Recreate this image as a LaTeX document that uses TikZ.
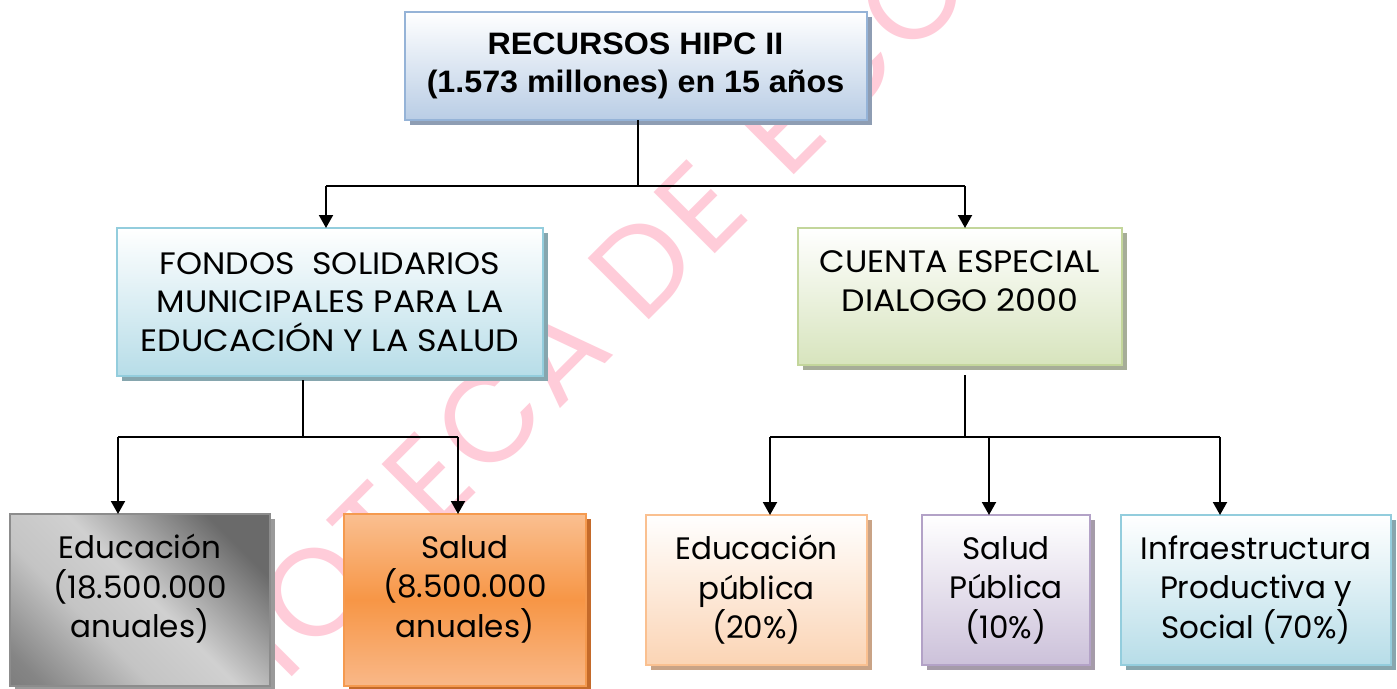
\documentclass[tikz,border=0pt]{standalone}
\usepackage{fontspec}
\setmainfont{Poppins}
\newfontfamily\capsfont[FakeStretch=1.07]{Poppins}
\newfontfamily\topfont[FakeStretch=1.04]{Liberation Sans}
\newfontfamily\wmfont[LetterSpace=5]{Poppins}
\usetikzlibrary{arrows.meta,shadows,calc}
\definecolor{topB}{HTML}{B9CDE5}
\definecolor{topD}{HTML}{95B3D7}
\definecolor{topS}{HTML}{8E9DB3}
\definecolor{cyB}{HTML}{B7DDE8}
\definecolor{cyD}{HTML}{93CDDD}
\definecolor{cyS}{HTML}{86A6AE}
\definecolor{grB}{HTML}{D7E4BD}
\definecolor{grD}{HTML}{C3D69B}
\definecolor{grS}{HTML}{A6AD98}
\definecolor{gyD}{HTML}{8C8C8C}
\definecolor{gyS}{HTML}{9A9A9A}
\definecolor{orD}{HTML}{F59A4F}
\definecolor{orS}{HTML}{C46A2A}
\definecolor{peB}{HTML}{FBD4B4}
\definecolor{peD}{HTML}{FAC090}
\definecolor{peS}{HTML}{C9A386}
\definecolor{puB}{HTML}{CCC1DA}
\definecolor{puD}{HTML}{B3A2C7}
\definecolor{puS}{HTML}{A59BA9}
\definecolor{wmpink}{RGB}{255,204,217}
\definecolor{gA}{HTML}{6A6A6A}
\definecolor{gB}{HTML}{D0D0D0}
\definecolor{gC}{HTML}{C4C4C4}
\definecolor{gE}{HTML}{858585}
\definecolor{oT}{HTML}{FABF90}
\definecolor{oM}{HTML}{F79646}
\definecolor{oB}{HTML}{F9B888}
\pgfdeclarehorizontalshading{greydiag}{100bp}{color(0bp)=(gA); color(25bp)=(gA); color(48bp)=(gB); color(62bp)=(gC); color(80bp)=(gE); color(100bp)=(gA)}
\pgfdeclareverticalshading{orangesh}{100bp}{color(0bp)=(oB); color(25bp)=(oB); color(50bp)=(oM); color(75bp)=(oT); color(100bp)=(oT)}
\tikzset{
  box/.style={rectangle, draw=#1, line width=2pt, inner sep=0pt, outer sep=0pt, align=center,
    font=\fontsize{31}{39.5}\selectfont},
  capsbox/.style={font=\capsfont\fontsize{31}{38.5}\selectfont},
  shad/.style={general shadow={shadow xshift=5pt, shadow yshift=-5pt, fill=#1}},
  txt/.style={align=center, inner sep=0pt, font=\fontsize{31}{39.5}\selectfont},
  conn/.style={line width=2pt, draw=black},
  arr/.style={conn, -{Triangle[width=14pt,length=13pt]}},
  wm/.style={rotate=45, inner sep=0pt, text=wmpink,
    font=\wmfont\fontsize{124}{124}\selectfont}
}
\begin{document}
\begin{tikzpicture}[x=1pt,y=-1pt]
\clip (0,0) rectangle (1397,688);
\fill[white] (0,0) rectangle (1397,688);

% watermark (behind the boxes)
\node[wm, anchor=base east] (wm1) at (617,352) {IOTECA};
\node[wm, anchor=base west] (wm2) at (642,327) {DE};
\node[wm, anchor=base west] (wm3) at (787,182) {ECO};

% level 0
\node[box=topD, top color=white, bottom color=topB, shad=topS,
      minimum width=462pt, minimum height=108pt,
      font=\topfont\bfseries\fontsize{31}{38}\selectfont] (top) at (635.5,66)
      {RECURSOS HIPC II\\(1.573 millones) en 15 años};

% level 1
\node[box=cyD, capsbox, top color=white, bottom color=cyB, shad=cyS,
      minimum width=426pt, minimum height=148pt] (fondos) at (330,302)
      {FONDOS\ \ SOLIDARIOS\\MUNICIPALES PARA LA\\EDUCACIÓN Y LA SALUD};
\node[box=grD, top color=white, bottom color=grB, shad=grS,
      minimum width=324pt, minimum height=137pt] (cuenta) at (960,296.5) {};
\node[txt, capsbox] (cuentat) at (960,281) {CUENTA ESPECIAL\\DIALOGO 2000};

% level 2
\node[box=gyD, shading=greydiag, shading angle=225, shad=gyS,
      minimum width=260pt, minimum height=172pt] (edu) at (140,600) {};
\node[txt] (edut) at (140,589) {Educación\\(18.500.000\\anuales)};
\node[box=orD, shading=orangesh, shad=orS,
      minimum width=242pt, minimum height=172pt] (salud) at (465,600) {};
\node[txt] (saludt) at (465,589) {Salud\\(8.500.000\\anuales)};
\node[box=peD, top color=white, bottom color=peB, shad=peS,
      minimum width=221pt, minimum height=150pt] (edup) at (756.5,590)
      {Educación\\pública\\(20\%)};
\node[box=puD, top color=white, bottom color=puB, shad=puS,
      minimum width=168pt, minimum height=150pt] (saludp) at (1006,590)
      {Salud\\Pública\\(10\%)};
\node[box=cyD, top color=white, bottom color=cyB, shad=cyS,
      minimum width=270pt, minimum height=150pt] (infra) at (1256,590)
      {Infraestructura\\Productiva y\\Social (70\%)};

% connectors level 0 -> 1
\coordinate (b1) at (638,186);
\coordinate (b1l) at (326,186);
\coordinate (b1r) at (965,186);
\draw[conn] (top.south -| b1) -- (b1);
\draw[conn] (b1l) -- (b1r);
\draw[arr] (b1l) -- (b1l |- fondos.north);
\draw[arr] (b1r) -- (b1r |- cuenta.north);

% connectors fondos -> level 2
\coordinate (b2) at (303,437);
\coordinate (b2l) at (118,437);
\coordinate (b2r) at (458,437);
\draw[conn] ([yshift=-4pt]fondos.south -| b2) -- (b2);
\draw[conn] (b2l) -- (b2r);
\draw[arr] (b2l) -- (b2l |- edu.north);
\draw[arr] (b2r) -- (b2r |- salud.north);

% connectors cuenta -> level 2
\coordinate (b3) at (965,437);
\coordinate (b3l) at (770,437);
\coordinate (b3m) at (989,437);
\coordinate (b3r) at (1220,437);
\draw[conn] ([yshift=-10pt]cuenta.south -| b3) -- (b3);
\draw[conn] (b3l) -- (b3r);
\draw[arr] (b3l) -- (b3l |- edup.north);
\draw[arr] (b3m) -- (b3m |- saludp.north);
\draw[arr] (b3r) -- (b3r |- infra.north);
\end{tikzpicture}
\end{document}
